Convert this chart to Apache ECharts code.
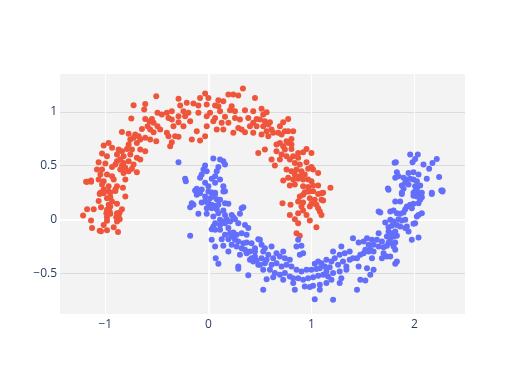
<!DOCTYPE html>
<html>
<head>
<meta charset="utf-8">
<script src="https://cdn.jsdelivr.net/npm/echarts@6/dist/echarts.min.js"></script>
<style>html,body{margin:0;padding:0;background:#fff}#c{width:525px;height:375px}</style>
</head>
<body>
<div id="c"></div>
<script>
const xTicks = [-1, 0, 1, 2];
const yTicks = [-0.5, 0, 0.5, 1];

const redPoints = [
[-0.506,1.146],[-0.613,1.074],[-0.726,1.062],[-0.623,1.022],[-0.494,0.991],[-0.452,0.975],[-0.748,0.938],[-0.548,0.935],[-0.613,0.935],[-0.571,0.913],
[-0.532,0.898],[-0.590,0.867],[-0.494,0.867],[-0.468,0.836],[-0.645,0.842],[-0.565,0.836],[-0.532,0.811],[-0.839,0.814],[-0.774,0.796],[-0.710,0.789],
[-0.726,0.759],[-0.677,0.774],[-0.613,0.759],[-0.758,0.743],[-0.661,0.743],[-0.565,0.743],[-0.506,0.728],[-0.694,0.712],[-0.774,0.697],[-0.968,0.712],
[-1.016,0.687],[-0.935,0.666],[-0.871,0.650],[-0.839,0.635],[-0.790,0.656],[-0.742,0.650],[-0.661,0.650],[-0.613,0.635],[-1.032,0.613],[-0.984,0.588],
[-0.887,0.604],[-0.823,0.588],[-0.758,0.604],[-0.694,0.573],[-0.855,0.557],[-0.887,0.542],[-0.823,0.526],[-0.774,0.542],[-0.661,0.557],[-1.065,0.533],
[-1.000,0.520],[-0.903,0.511],[-0.839,0.502],[-0.726,0.511],[-0.806,0.480],[-0.935,0.489],[-0.742,0.471],[-1.081,0.464],[-1.032,0.464],[-0.855,0.464],
[-0.774,0.449],[-0.694,0.440],[-1.048,0.418],[-0.984,0.418],[-0.935,0.402],[-0.823,0.433],[-0.919,0.372],[-1.065,0.372],[-1.177,0.350],[-1.139,0.362],
[-1.016,0.356],[-0.806,0.372],[-1.032,0.325],[-0.968,0.310],[-0.887,0.310],[-0.829,0.294],[-1.016,0.279],[-0.903,0.279],[-1.048,0.248],[-0.952,0.248],
[-1.187,0.351],[-1.138,0.351],
[-1.016,0.245],[-0.968,0.260],[-0.903,0.266],[-1.055,0.238],[-0.806,0.214],[-0.984,0.198],[-0.952,0.207],[-1.065,0.173],[-0.935,0.167],[-0.887,0.146],
[-0.968,0.136],[-0.952,0.121],[-1.042,0.115],[-1.177,0.096],[-1.113,0.096],[-0.839,0.096],[-0.984,0.090],[-0.958,0.074],[-0.887,0.059],[-0.861,0.065],
[-1.216,0.037],[-0.990,0.059],[-0.952,0.053],[-0.871,0.034],[-0.984,0.022],[-0.894,0.022],[-0.861,0.003],[-1.139,-0.009],[-0.984,-0.012],[-0.887,-0.019],
[-1.016,-0.050],[-1.129,-0.080],[-0.919,-0.071],[-1.055,-0.105],[-1.042,-0.108],[-0.984,-0.099],[-0.877,-0.115],
[0.335,1.217],[-0.032,1.170],[0.194,1.161],[0.242,1.161],[0.290,1.152],[-0.081,1.130],[0.452,1.130],[-0.290,1.121],[0.000,1.130],[0.097,1.108],
[0.145,1.099],[-0.210,1.084],[-0.145,1.077],[-0.097,1.059],[-0.016,1.068],[0.065,1.059],[0.097,1.053],[0.226,1.053],[-0.274,1.059],[-0.355,1.006],
[-0.242,1.006],[-0.194,0.991],[-0.097,0.991],[0.016,0.991],[0.113,1.006],[0.210,1.015],[0.258,1.006],[0.355,1.015],[0.435,1.006],[-0.403,0.991],
[-0.290,0.960],[-0.387,0.944],[-0.355,0.929],[-0.226,0.960],[-0.016,0.960],[0.065,0.944],[0.161,0.954],[0.258,0.944],[0.306,0.929],[0.387,0.944],
[0.468,0.935],[-0.290,0.904],[-0.177,0.913],[0.048,0.913],[0.129,0.898],[0.194,0.898],[0.435,0.898],[-0.339,0.867],[-0.242,0.867],[-0.016,0.867],
[0.081,0.836],[0.145,0.836],[0.290,0.851],[0.323,0.836],[0.403,0.867],[0.468,0.867],[-0.403,0.805],[-0.113,0.820],[0.242,0.805],[0.355,0.811],
[0.435,0.805],[-0.387,0.774],[-0.323,0.774],[-0.290,0.768],[-0.032,0.774],[-0.161,0.743],[-0.081,0.734],[-0.355,0.718],[-0.371,0.681],[0.484,0.619],
[0.516,1.028],[0.565,0.997],[0.532,0.975],[0.500,0.929],[0.548,0.913],[0.597,0.904],[0.581,0.882],[0.532,0.867],[0.613,0.836],[0.565,0.820],
[0.516,0.789],[0.581,0.774],[0.629,0.805],[0.726,0.904],[0.774,0.935],[0.694,0.867],[0.742,0.820],[0.774,0.820],[0.823,0.820],[0.677,0.805],
[0.710,0.789],[0.806,0.749],[0.758,0.728],[0.694,0.712],[0.661,0.697],[0.726,0.681],[0.774,0.712],[0.806,0.697],[0.742,0.650],[0.806,0.656],
[0.871,0.619],[0.919,0.625],[0.952,0.656],[1.000,0.619],[0.548,0.650],[0.661,0.635],[0.710,0.604],[0.758,0.588],[0.823,0.588],[0.694,0.557],
[0.790,0.557],[0.871,0.573],[0.613,0.557],[0.645,0.502],[0.839,0.526],[0.887,0.511],[0.952,0.533],[1.000,0.489],[1.016,0.464],[0.968,0.471],
[0.758,0.464],[0.806,0.449],[0.855,0.464],[0.903,0.449],[0.839,0.418],[0.887,0.402],[0.935,0.418],[1.065,0.433],[0.774,0.387],[0.823,0.372],
[0.871,0.378],[0.919,0.372],[0.968,0.372],[1.000,0.356],[0.726,0.362],[0.790,0.316],[0.839,0.325],[0.919,0.310],[0.968,0.303],[1.016,0.316],
[1.065,0.316],[1.184,0.294],[0.935,0.254],[0.984,0.263],[1.016,0.263],[1.113,0.248],
[0.919,0.229],[0.968,0.260],[0.887,0.214],[1.065,0.238],[1.097,0.245],[0.984,0.198],[1.032,0.183],[1.097,0.183],[1.113,0.176],[0.719,0.152],
[0.797,0.136],[0.871,0.167],[0.919,0.158],[1.000,0.146],[1.048,0.136],[0.903,0.121],[0.984,0.121],[1.065,0.105],[1.081,0.074],[0.919,0.084],
[0.871,0.059],[0.790,0.043],[0.952,0.043],[1.097,0.043],[0.839,0.003],[0.984,-0.009],[0.871,-0.034],[1.048,-0.071],[0.855,-0.127],[0.887,-0.152]
];

const bluePoints = [
[-0.290,0.533],[0.048,0.567],[0.113,0.557],[0.145,0.542],[0.161,0.511],[-0.032,0.502],[0.097,0.489],[-0.048,0.464],[-0.016,0.449],[-0.065,0.418],
[0.081,0.449],[-0.226,0.378],[-0.219,0.356],[-0.081,0.387],[0.065,0.402],[0.032,0.378],[0.113,0.372],[-0.032,0.341],[0.065,0.341],[0.000,0.310],
[-0.113,0.285],[-0.065,0.279],[0.145,0.310],[0.161,0.263],[0.032,0.248],[0.065,0.248],
[-0.129,0.269],[-0.081,0.245],[0.000,0.260],[0.032,0.251],[0.065,0.238],[0.145,0.260],[-0.113,0.229],[-0.032,0.214],[0.016,0.198],[0.048,0.214],
[0.081,0.189],[0.113,0.183],[-0.161,0.152],[-0.145,0.136],[-0.177,0.115],[-0.065,0.158],[-0.032,0.167],[0.000,0.152],[0.032,0.136],[0.065,0.127],
[0.097,0.136],[0.161,0.152],[0.194,0.146],[-0.016,0.105],[0.032,0.105],[0.081,0.096],[0.145,0.084],[-0.097,0.053],[-0.016,0.053],[0.048,0.028],
[0.097,0.059],[0.161,0.043],[0.226,0.043],[0.242,0.022],[0.323,0.105],[0.339,0.115],[0.306,0.053],[0.113,-0.003],[0.145,-0.019],[0.177,0.003],
[0.065,-0.034],[0.048,-0.065],[0.113,-0.050],[0.161,-0.034],[0.210,-0.019],[0.258,0.003],[0.290,-0.034],[0.355,-0.050],[0.387,-0.080],[-0.177,-0.152],
[0.032,-0.090],[0.065,-0.096],[0.113,-0.096],[0.194,-0.080],[0.210,-0.127],[0.242,-0.121],[0.274,-0.142],[0.323,-0.127],[0.371,-0.142],[0.161,-0.142],
[0.032,-0.189],[0.129,-0.183],[0.194,-0.183],[0.226,-0.158],[0.258,-0.189],[0.290,-0.204],[0.339,-0.220],[0.371,-0.214],[0.419,-0.220],[0.484,-0.183],
[0.065,-0.251],[0.145,-0.245],[0.226,-0.235],[0.274,-0.251],[0.323,-0.266],[0.355,-0.282],[0.403,-0.297],[0.452,-0.266],[0.452,-0.297],[0.194,-0.297],
[0.306,-0.328],[0.403,-0.375],[0.419,-0.359],[0.452,-0.344],[0.435,-0.390],[0.468,-0.381],[0.484,-0.421],[0.371,-0.313],[0.097,-0.412],[0.071,-0.359],
[0.290,-0.437],[0.290,-0.458],[0.387,-0.517],
[0.500,-0.189],[0.516,-0.235],[0.548,-0.266],[0.613,-0.251],[0.532,-0.297],[0.581,-0.328],[0.661,-0.313],[0.726,-0.297],[0.516,-0.359],[0.565,-0.375],
[0.629,-0.359],[0.694,-0.344],[0.742,-0.359],[0.790,-0.375],[0.887,-0.328],[0.919,-0.313],[0.855,-0.251],[0.903,-0.245],[0.871,-0.189],[0.500,-0.421],
[0.548,-0.406],[0.613,-0.421],[0.661,-0.406],[0.710,-0.437],[0.758,-0.421],[0.806,-0.437],[0.855,-0.467],[0.903,-0.483],[0.952,-0.467],[1.000,-0.467],
[1.048,-0.461],[1.081,-0.452],[1.129,-0.437],[1.032,-0.412],[1.145,-0.375],[1.194,-0.390],[1.226,-0.359],[1.274,-0.328],[1.323,-0.313],[1.371,-0.297],
[1.403,-0.173],[1.290,-0.251],[1.210,-0.297],[1.306,-0.390],[1.258,-0.421],[1.339,-0.437],[1.371,-0.375],[1.403,-0.359],[0.532,-0.467],[0.597,-0.467],
[0.645,-0.498],[0.694,-0.514],[0.742,-0.498],[0.790,-0.529],[0.823,-0.545],[0.871,-0.545],[0.919,-0.560],[0.968,-0.545],[1.016,-0.536],[1.065,-0.523],
[1.113,-0.514],[1.161,-0.529],[1.210,-0.498],[1.274,-0.483],[1.339,-0.467],[0.565,-0.554],[0.629,-0.536],[0.726,-0.560],[0.823,-0.591],[0.935,-0.622],
[1.016,-0.616],[1.081,-0.607],[1.145,-0.591],[1.194,-0.560],[1.274,-0.591],[0.532,-0.653],[0.839,-0.653],[0.984,-0.628],[1.081,-0.653],[1.032,-0.740],
[1.210,-0.746],[1.290,-0.545],[1.097,-0.406],[1.065,-0.390],[1.145,-0.483],[1.177,-0.443],
[1.748,0.276],[1.877,0.238],[2.006,0.260],[2.039,0.245],[1.990,0.220],[2.023,0.214],[2.071,0.207],[2.168,0.238],[2.271,0.260],[1.813,0.167],
[1.861,0.167],[1.926,0.121],[1.958,0.136],[1.990,0.146],[2.039,0.152],[2.055,0.183],[1.910,0.096],[1.974,0.105],[1.652,0.074],[1.668,0.065],
[1.765,0.074],[1.797,0.084],[1.829,0.059],[1.861,0.053],[1.894,0.065],[2.023,0.028],[2.039,0.043],[2.071,0.059],[1.716,-0.028],[1.765,-0.003],
[1.797,-0.019],[1.845,0.003],[1.877,-0.009],[1.910,-0.003],[2.006,-0.034],[1.990,-0.040],[1.748,-0.071],[1.781,-0.059],[1.829,-0.050],[1.861,-0.065],
[1.910,-0.080],[1.942,-0.111],[1.926,-0.065],[1.974,-0.189],[2.039,-0.167],[1.748,-0.111],[1.781,-0.127],[1.813,-0.111],[1.732,-0.158],[1.765,-0.173],
[1.797,-0.158],[1.829,-0.152],[1.652,-0.127],[1.635,-0.189],[1.684,-0.204],[1.748,-0.214],[1.781,-0.220],[1.813,-0.214],[1.539,-0.173],[1.587,-0.189],
[1.506,-0.204],[1.458,-0.214],[1.555,-0.235],[1.603,-0.235],[1.652,-0.251],[1.700,-0.257],[1.732,-0.245],[1.797,-0.251],[1.813,-0.282],[1.523,-0.282],
[1.571,-0.282],[1.506,-0.313],[1.555,-0.297],[1.603,-0.297],[1.700,-0.313],[1.474,-0.328],[1.587,-0.359],[1.684,-0.359],[1.732,-0.344],[1.765,-0.344],
[1.829,-0.390],[1.813,-0.412],[1.442,-0.359],[1.458,-0.437],[1.539,-0.452],[1.603,-0.467],[1.571,-0.514],[1.474,-0.560],[1.523,-0.567],[1.442,-0.653],
[1.958,0.604],[2.032,0.604],[2.006,0.563],[1.981,0.533],[1.819,0.533],[2.216,0.563],[2.174,0.526],[2.087,0.511],[2.142,0.471],[1.829,0.440],
[1.845,0.402],[1.942,0.433],[1.990,0.440],[2.039,0.418],[1.813,0.387],[1.894,0.387],[1.926,0.372],[1.958,0.378],[1.910,0.341],[1.990,0.372],
[2.023,0.356],[2.119,0.378],[2.239,0.396],[1.877,0.316],[1.942,0.325],[2.006,0.310],[2.055,0.316],[1.742,0.288],[1.894,0.285],[2.023,0.279],
[2.271,0.269],[1.877,0.248],[1.990,0.248],[2.071,0.248],[2.168,0.248],[1.807,0.528],[2.260,0.270]
];

const fmt = v => (Math.abs(v) < 1e-9 ? '0' : String(v).replace('-', '\u2212'));
const labelFont = { color: '#2a3f5f', fontSize: 12, fontFamily: '"Open Sans", Verdana, Arial, sans-serif' };

const chart = echarts.init(document.getElementById('c'), null, { renderer: 'canvas' });
chart.setOption({
  animation: false,
  backgroundColor: '#ffffff',
  grid: { left: 60, right: 60, top: 74, bottom: 61, show: true, backgroundColor: '#f3f3f3', borderWidth: 0 },
  xAxis: {
    type: 'value', min: -1.44, max: 2.49,
    axisLine: { show: false },
    axisTick: { show: false, customValues: xTicks },
    axisLabel: Object.assign({ customValues: xTicks, margin: 5, formatter: fmt }, labelFont),
    splitLine: { show: true, lineStyle: { color: '#ffffff', width: 1 } }
  },
  yAxis: {
    type: 'value', min: -0.878, max: 1.352,
    axisLine: { show: false },
    axisTick: { show: false, customValues: yTicks },
    axisLabel: Object.assign({ customValues: yTicks, margin: 3, formatter: fmt }, labelFont),
    splitLine: { show: true, lineStyle: { color: '#dcdcdc', width: 1 } }
  },
  series: [
    {
      type: 'scatter', data: [], silent: true, z: 1,
      markLine: {
        silent: true, symbol: 'none', label: { show: false }, z: 1,
        lineStyle: { color: '#ffffff', width: 2, type: 'solid' },
        data: [{ xAxis: 0 }, { yAxis: 0 }]
      }
    },
    { name: 'red', type: 'scatter', data: redPoints, symbolSize: 6, z: 3, itemStyle: { color: '#EF553B', opacity: 1 } },
    { name: 'blue', type: 'scatter', data: bluePoints, symbolSize: 6, z: 3, itemStyle: { color: '#636EFA', opacity: 1 } }
  ]
});
</script>
</body>
</html>
